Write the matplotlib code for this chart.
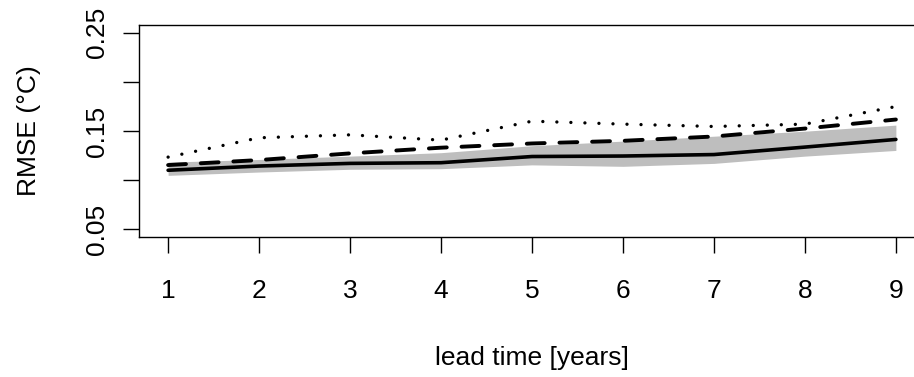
import matplotlib
matplotlib.use("Agg")
import matplotlib.pyplot as plt

plt.rcParams["font.family"] = ["Liberation Sans", "DejaVu Sans"]

lead = [1, 2, 3, 4, 5, 6, 7, 8, 9]
rmse_solid = [0.110, 0.1143, 0.117, 0.1177, 0.124, 0.1245, 0.126, 0.1336, 0.1414]
band_lo = [0.1048, 0.1082, 0.111, 0.1116, 0.1155, 0.114, 0.117, 0.1244, 0.1302]
band_hi = [0.1183, 0.121, 0.1244, 0.1279, 0.135, 0.1397, 0.1447, 0.1498, 0.156]
rmse_dashed = [0.1153, 0.1204, 0.1272, 0.133, 0.1373, 0.140, 0.1444, 0.1525, 0.1617]
rmse_dotted = [0.1234, 0.1431, 0.1461, 0.1407, 0.160, 0.157, 0.1546, 0.157, 0.1749]
yticks = [0.05, 0.10, 0.15, 0.20, 0.25]
ylabels = ["0.05", "", "0.15", "", "0.25"]

W, H = 914, 377
fig = plt.figure(figsize=(W / 100, H / 100), dpi=100)
ax = fig.add_axes([139 / W, (H - 237) / H, (925 - 139) / W, (237 - 25) / H])

ax.fill_between(lead, band_lo, band_hi, color="#BEBEBE", linewidth=0)
ax.plot(lead, rmse_solid, color="black", lw=2.6, solid_capstyle="round")
ax.plot(lead, rmse_dashed, color="black", lw=2.8, linestyle=(0, (4.6, 3.8)), dash_capstyle="round")
ax.plot(lead, rmse_dotted, color="black", lw=2.4, linestyle=(0, (0.01, 4.2)), dash_capstyle="round")

ax.set_xlim(0.68, 9.32)
ax.set_ylim(0.042, 0.258)
ax.set_xticks(lead)
ax.set_yticks(yticks)
ax.set_yticklabels(ylabels, rotation=90, va="center")
for s in ax.spines.values():
    s.set_linewidth(1.0)
ax.tick_params(axis="both", length=11.5, width=1.0, labelsize=19, direction="out")
ax.tick_params(axis="x", pad=19)
ax.tick_params(axis="y", pad=10)

ax.set_xlabel("lead time [years]", fontsize=19, labelpad=31)
ax.set_ylabel("RMSE (°C)", fontsize=19, labelpad=32)

fig.savefig("out.png", dpi=100)
